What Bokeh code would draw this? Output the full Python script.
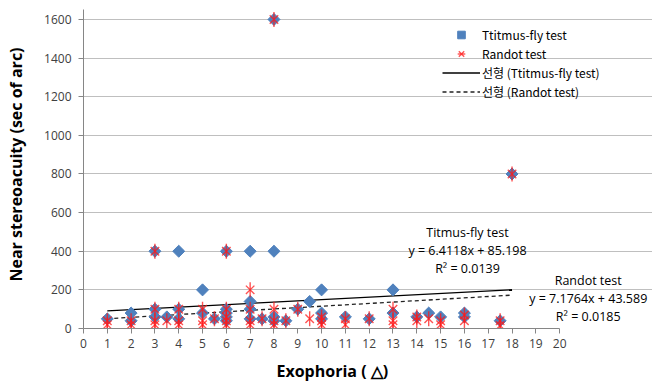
import math
from bokeh.plotting import figure
from bokeh.models import Range1d, FixedTicker, Legend, LegendItem, Label, ColumnDataSource, Title
from bokeh.embed import file_html
from bokeh.resources import INLINE

# Titmus-fly test (diamonds)
titmus_x = [1, 2, 2, 3, 3, 3, 3.5, 4, 4, 4, 5, 5, 5.5, 6, 6, 6, 6, 6, 7, 7, 7, 7, 7.5,
            8, 8, 8, 8, 8.5, 9, 9.5, 10, 10, 10, 11, 12, 13, 13, 14, 14.5, 15, 16, 16, 17.5, 18]
titmus_y = [50, 80, 40, 400, 100, 60, 60, 400, 100, 50, 200, 80, 50, 400, 100, 80, 60, 40, 400, 140, 100, 50, 50,
            1600, 400, 60, 40, 40, 100, 140, 200, 80, 50, 60, 50, 200, 80, 60, 80, 60, 80, 60, 40, 800]

# Randot test (asterisks)
randot_x = [1, 1, 2, 2, 3, 3, 3, 3, 3.5, 4, 4, 4, 5, 5, 5, 5.5, 6, 6, 6, 6, 6, 7, 7, 7, 7, 7.5,
            8, 8, 8, 8, 8.5, 9, 9.5, 10, 10, 10, 11, 11, 12, 13, 13, 13, 14, 14, 14.5, 15, 15, 16, 16, 17.5, 17.5, 18]
randot_y = [40, 20, 40, 20, 400, 100, 40, 20, 40, 100, 40, 20, 100, 40, 20, 50, 400, 100, 60, 40, 20, 200, 100, 40, 20, 50,
            1600, 100, 40, 20, 40, 100, 50, 60, 40, 20, 50, 20, 50, 100, 40, 20, 60, 40, 50, 40, 20, 70, 40, 40, 15, 800]

# Linear trend coefficients (from the chart)
titmus_slope, titmus_icpt, titmus_r2 = 6.4118, 85.198, 0.0139
randot_slope, randot_icpt, randot_r2 = 7.1764, 43.589, 0.0185

x_ticks = list(range(0, 21))
y_ticks = [0, 200, 400, 600, 800, 1000, 1200, 1400, 1600]

FONT = "Open Sans"
CJK = "Noto Sans CJK KR"

p = figure(width=652, height=389, output_backend="svg", toolbar_location=None,
           x_range=Range1d(0, 23.9), y_range=Range1d(0, 1698),
           min_border_left=83, min_border_right=0, min_border_top=0, min_border_bottom=61)
p.outline_line_color = None
p.background_fill_color = "white"

p.xgrid.grid_line_color = None
p.ygrid.grid_line_color = "#BFBFBF"
p.ygrid.grid_line_width = 1
p.ygrid.ticker = FixedTicker(ticks=y_ticks)
p.ygrid.bounds = (0, 20)

p.xaxis.ticker = FixedTicker(ticks=x_ticks)
p.xaxis.bounds = (0, 20)
p.yaxis.ticker = FixedTicker(ticks=y_ticks)
p.yaxis.bounds = (0, 1650)
for ax in (p.xaxis, p.yaxis):
    ax.axis_line_color = "#868686"
    ax.major_tick_line_color = "#868686"
    ax.major_tick_out = 5
    ax.major_tick_in = 0
    ax.minor_tick_line_color = None
    ax.major_label_text_font = FONT
    ax.major_label_text_font_size = "12px"
    ax.major_label_text_color = "#404040"
    ax.axis_label_text_font = FONT
    ax.axis_label_text_font_style = "bold"
    ax.axis_label_text_font_size = "16px"
    ax.axis_label_text_color = "#000000"
p.yaxis.axis_label = "Near stereoacuity (sec of arc)"
p.xaxis.major_label_standoff = 5
p.yaxis.major_label_standoff = 7
p.yaxis.axis_label_standoff = 14

x_title = Title(text="Exophoria ( △)", align="left", offset=193, text_font=FONT,
                text_font_style="bold", text_font_size="16px", text_color="#000000", standoff=15)
p.add_layout(x_title, "below")

# trend lines
xs_all = titmus_x + randot_x
xmin, xmax = min(xs_all), max(xs_all)
tl_x = [xmin, xmax]
t_line = p.line(tl_x, [titmus_slope * v + titmus_icpt for v in tl_x], line_color="black", line_width=1.3)
r_line = p.line(tl_x, [randot_slope * v + randot_icpt for v in tl_x], line_color="#222222", line_width=1.3,
                line_dash="4 3")

# points
t_src = ColumnDataSource(dict(x=titmus_x, y=titmus_y))
r_src = ColumnDataSource(dict(x=randot_x, y=randot_y))
t_pts = p.scatter("x", "y", source=t_src, marker="square", angle=math.pi / 4, size=8.5,
                  fill_color="#4F81BD", line_color="#4F81BD", line_width=1)
r_x = p.scatter("x", "y", source=r_src, marker="x", size=12, line_color="#FF1A1A", line_alpha=0.75, line_width=1.4)
r_d = p.scatter("x", "y", source=r_src, marker="dash", angle=math.pi / 2, size=15, line_color="#FF1A1A",
                line_alpha=0.75, line_width=1.4)

legend = Legend(items=[
    LegendItem(label="Ttitmus-fly test", renderers=[t_pts]),
    LegendItem(label="Randot test", renderers=[r_x, r_d]),
    LegendItem(label="선형 (Ttitmus-fly test)", renderers=[t_line]),
    LegendItem(label="선형 (Randot test)", renderers=[r_line]),
], location=(359, 227))
legend.background_fill_alpha = 0
legend.border_line_color = None
legend.label_text_font = CJK
legend.label_text_font_size = "12px"
legend.label_text_color = "#000000"
legend.glyph_width = 38
legend.glyph_height = 19
legend.label_height = 19
legend.label_standoff = 2
legend.spacing = 0
legend.padding = 0
legend.margin = 0
p.add_layout(legend, "center")

# regression annotations
def ann(x, y, text):
    p.add_layout(Label(x=x, y=y, text=text, text_align="center", text_baseline="middle",
                       text_font=FONT, text_font_size="12.5px", text_color="#000000"))

tx = 16.13
ann(tx, 497, "Titmus-fly test")
ann(tx, 404, f"y = {titmus_slope}x + {titmus_icpt}")
ann(tx, 311, f"R² = {titmus_r2}")
rx = 21.2
ann(rx, 249, "Randot test")
ann(rx, 155, f"y = {randot_slope}x + {randot_icpt}")
ann(rx, 62, f"R² = {randot_r2}")

open("out.html", "w").write(file_html(p, INLINE))
